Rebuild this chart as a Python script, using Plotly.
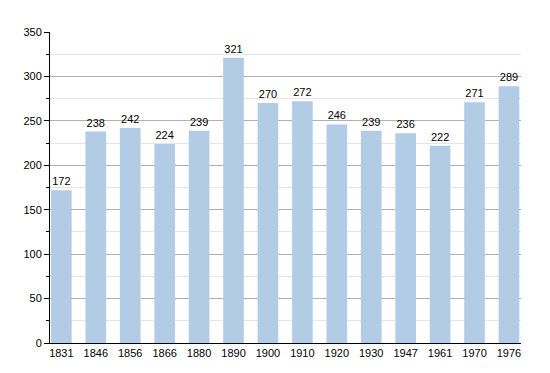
import plotly.graph_objects as go

years = ["1831","1846","1856","1866","1880","1890","1900","1910","1920","1930","1947","1961","1970","1976"]
population = [172,238,242,224,239,321,270,272,246,239,236,222,271,289]
y_ticks = [0,50,100,150,200,250,300,350]

fig = go.Figure(go.Bar(
    x=list(range(len(years))), y=population,
    text=[str(v) for v in population], textposition="outside",
    textfont=dict(size=11, color="black"),
    marker=dict(color="#b3cce6", line=dict(width=0)),
    width=0.6, cliponaxis=False,
))
fig.update_layout(
    width=550, height=373,
    margin=dict(l=42, r=37, t=24, b=38, autoexpand=False),
    paper_bgcolor="white", plot_bgcolor="white",
    font=dict(family="Liberation Sans, Arial", size=11, color="black"),
    showlegend=False,
    xaxis=dict(tickmode="array", tickvals=list(range(len(years))), ticktext=years,
               range=[-0.33, 13.35], showline=True, linecolor="black", linewidth=1,
               ticks="", showgrid=False, zeroline=False),
    yaxis=dict(range=[0, 350], tickvals=y_ticks, showline=True, linecolor="black",
               linewidth=1, ticks="outside", ticklen=5, tickcolor="black",
               showgrid=True, gridcolor="#b0b0b0", gridwidth=1, zeroline=False,
               minor=dict(dtick=25, ticks="outside", ticklen=3, tickcolor="black",
                          showgrid=True, gridcolor="#e6e6e6")),
)
fig.write_html("out.html")
